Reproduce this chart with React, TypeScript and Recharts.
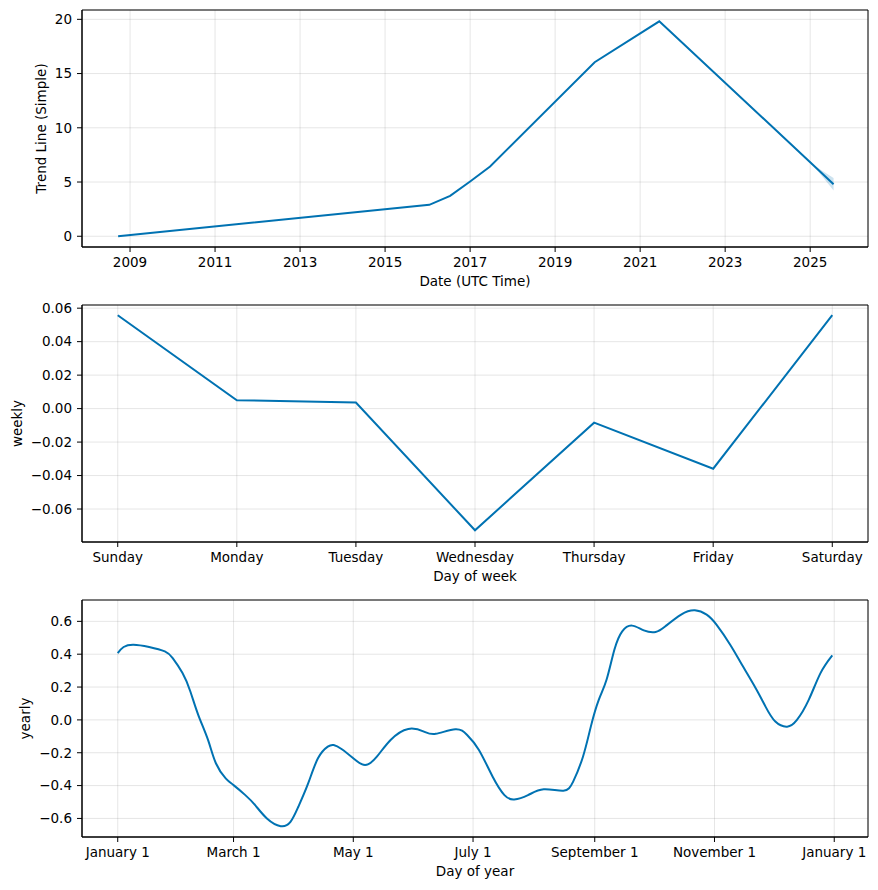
import {
  ComposedChart,
  LineChart,
  Line,
  Area,
  XAxis,
  YAxis,
  CartesianGrid,
  ReferenceArea,
} from 'recharts';

// trend component (decimal years)
const trendYears = [2008.72, 2016.04, 2016.53, 2017.0, 2017.47, 2019.93, 2021.45, 2025.05, 2025.3, 2025.55];
const trendValues = [0.0, 2.9, 3.73, 5.05, 6.43, 16.05, 19.82, 6.64, 5.72, 4.8];
const trendLower = [0.0, 2.9, 3.73, 5.05, 6.43, 16.05, 19.82, 6.64, 5.45, 4.22];
const trendUpper = [0.0, 2.9, 3.73, 5.05, 6.43, 16.05, 19.82, 6.64, 6.0, 5.36];
const yearTicks = [2009, 2011, 2013, 2015, 2017, 2019, 2021, 2023, 2025];
const trendTicks = [0, 5, 10, 15, 20];

// weekly component
const weekDays = ['Sunday', 'Monday', 'Tuesday', 'Wednesday', 'Thursday', 'Friday', 'Saturday'];
const weeklyValues = [0.0558, 0.005, 0.0036, -0.0727, -0.0084, -0.0359, 0.0558];
const weeklyTicks = [-0.06, -0.04, -0.02, 0, 0.02, 0.04, 0.06];

// yearly component (day of year from Jan 1)
const yearlyDays = [
  0, 3, 8, 16, 24, 28, 33, 37, 41, 46, 50, 55, 59, 65, 70, 76, 83, 88, 92, 97, 102, 107, 110, 114,
  120, 126, 132, 139, 148, 156, 162, 172, 178, 184, 191, 197, 202, 209, 217, 227, 232, 237, 241,
  245, 249, 253, 257, 262, 268, 274, 279, 287, 294, 300, 305, 312, 318, 325, 330, 335, 341, 346,
  352, 358, 364,
];
const yearlyValues = [
  0.407, 0.444, 0.458, 0.444, 0.417, 0.376, 0.285, 0.173, 0.031, -0.122, -0.264, -0.356, -0.397,
  -0.458, -0.519, -0.6, -0.647, -0.621, -0.529, -0.387, -0.234, -0.163, -0.153, -0.177, -0.234,
  -0.275, -0.224, -0.122, -0.055, -0.071, -0.085, -0.057, -0.092, -0.183, -0.346, -0.458, -0.484,
  -0.458, -0.423, -0.431, -0.376, -0.224, -0.041, 0.12, 0.244, 0.427, 0.539, 0.574, 0.545, 0.535,
  0.57, 0.641, 0.667, 0.641, 0.58, 0.458, 0.336, 0.193, 0.081, -0.01, -0.041, 0.0, 0.122, 0.285,
  0.393,
];
const monthTickDays = [0, 59, 120, 181, 243, 304, 365];
const monthTickLabels = ['January 1', 'March 1', 'May 1', 'July 1', 'September 1', 'November 1', 'January 1'];
const yearlyTicks = [-0.6, -0.4, -0.2, 0, 0.2, 0.4, 0.6];

const FONT = 'DejaVu Sans';
const BLUE = '#0072B2';
const W = 878;

const tickStyle = { fill: '#000', fontSize: 13.5, fontFamily: FONT };
const axisLine = { stroke: '#000', strokeWidth: 1 };
const tickLine = { stroke: '#000', strokeWidth: 1 };
const labelProps = { fill: '#000', fontSize: 13.5, fontFamily: FONT };

function fmt(v: number, digits: number) {
  const s = Math.abs(v).toFixed(digits);
  return v < -1e-9 ? '\u2212' + s : s;
}

export default function App() {
  const trendData = trendYears.map((year, i) => ({
    year,
    trend: trendValues[i],
    band: [trendLower[i], trendUpper[i]],
  }));
  const weeklyData = weeklyValues.map((v, i) => ({ day: i, weekly: v }));
  const yearlyData = yearlyDays.map((d, i) => ({ day: d, yearly: yearlyValues[i] }));

  const trendX: [number, number] = [2007.87, 2026.36];
  const trendY: [number, number] = [-0.99, 20.86];
  const weekX: [number, number] = [-0.3, 6.3];
  const weekY: [number, number] = [-0.0797, 0.0619];
  const yearX: [number, number] = [-18.2, 382.2];
  const yearY: [number, number] = [-0.713, 0.73];

  const grid = <CartesianGrid stroke="#808080" strokeOpacity={0.2} strokeWidth={1} />;

  return (
    <div style={{ position: 'absolute', left: 0, top: 0, width: W, height: 890, background: '#fff' }}>
      <ComposedChart width={W} height={295} data={trendData} margin={{ top: 10, right: 10, bottom: 3, left: 0 }}>
        {grid}
        <XAxis
          dataKey="year"
          type="number"
          domain={trendX}
          allowDataOverflow
          ticks={yearTicks}
          interval={0}
          tick={tickStyle}
          tickSize={5}
          tickMargin={5}
          axisLine={axisLine}
          tickLine={tickLine}
          height={45}
          label={{ value: 'Date (UTC Time)', position: 'insideBottom', offset: 6, ...labelProps }}
        />
        <YAxis
          type="number"
          domain={trendY}
          allowDataOverflow
          ticks={trendTicks}
          interval={0}
          tick={tickStyle}
          tickSize={5}
          tickMargin={5}
          axisLine={axisLine}
          tickLine={tickLine}
          width={82}
          label={{
            value: 'Trend Line (Simple)',
            angle: -90,
            position: 'insideLeft',
            offset: 41,
            style: { textAnchor: 'middle' },
            ...labelProps,
          }}
        />
        <Area
          dataKey="band"
          type="linear"
          stroke="none"
          fill={BLUE}
          fillOpacity={0.2}
          isAnimationActive={false}
        />
        <Line dataKey="trend" type="linear" stroke={BLUE} strokeWidth={2} dot={false} isAnimationActive={false} />
        <ReferenceArea
          x1={trendX[0]}
          x2={trendX[1]}
          y1={trendY[0]}
          y2={trendY[1]}
          fill="none"
          stroke="#000"
          strokeWidth={1}
          ifOverflow="visible"
        />
      </ComposedChart>

      <LineChart width={W} height={295} data={weeklyData} margin={{ top: 10, right: 10, bottom: 3, left: 0 }}>
        {grid}
        <XAxis
          dataKey="day"
          type="number"
          domain={weekX}
          allowDataOverflow
          ticks={[0, 1, 2, 3, 4, 5, 6]}
          interval={0}
          tickFormatter={(v: number) => weekDays[v]}
          tick={tickStyle}
          tickSize={5}
          tickMargin={5}
          axisLine={axisLine}
          tickLine={tickLine}
          height={45}
          label={{ value: 'Day of week', position: 'insideBottom', offset: 6, ...labelProps }}
        />
        <YAxis
          type="number"
          domain={weekY}
          allowDataOverflow
          ticks={weeklyTicks}
          interval={0}
          tickFormatter={(v: number) => fmt(v, 2)}
          tick={tickStyle}
          tickSize={5}
          tickMargin={5}
          axisLine={axisLine}
          tickLine={tickLine}
          width={82}
          label={{
            value: 'weekly',
            angle: -90,
            position: 'insideLeft',
            offset: 17,
            style: { textAnchor: 'middle' },
            ...labelProps,
          }}
        />
        <Line dataKey="weekly" type="linear" stroke={BLUE} strokeWidth={2} dot={false} isAnimationActive={false} />
        <ReferenceArea
          x1={weekX[0]}
          x2={weekX[1]}
          y1={weekY[0]}
          y2={weekY[1]}
          fill="none"
          stroke="#000"
          strokeWidth={1}
          ifOverflow="visible"
        />
      </LineChart>

      <LineChart width={W} height={300} data={yearlyData} margin={{ top: 10, right: 10, bottom: 8, left: 0 }}>
        {grid}
        <XAxis
          dataKey="day"
          type="number"
          domain={yearX}
          allowDataOverflow
          ticks={monthTickDays}
          interval={0}
          tickFormatter={(v: number) => monthTickLabels[monthTickDays.indexOf(v)]}
          tick={tickStyle}
          tickSize={5}
          tickMargin={5}
          axisLine={axisLine}
          tickLine={tickLine}
          height={45}
          label={{ value: 'Day of year', position: 'insideBottom', offset: 6, ...labelProps }}
        />
        <YAxis
          type="number"
          domain={yearY}
          allowDataOverflow
          ticks={yearlyTicks}
          interval={0}
          tickFormatter={(v: number) => fmt(v, 1)}
          tick={tickStyle}
          tickSize={5}
          tickMargin={5}
          axisLine={axisLine}
          tickLine={tickLine}
          width={82}
          label={{
            value: 'yearly',
            angle: -90,
            position: 'insideLeft',
            offset: 25,
            style: { textAnchor: 'middle' },
            ...labelProps,
          }}
        />
        <Line dataKey="yearly" type="natural" stroke={BLUE} strokeWidth={2} dot={false} isAnimationActive={false} />
        <ReferenceArea
          x1={yearX[0]}
          x2={yearX[1]}
          y1={yearY[0]}
          y2={yearY[1]}
          fill="none"
          stroke="#000"
          strokeWidth={1}
          ifOverflow="visible"
        />
      </LineChart>
    </div>
  );
}
